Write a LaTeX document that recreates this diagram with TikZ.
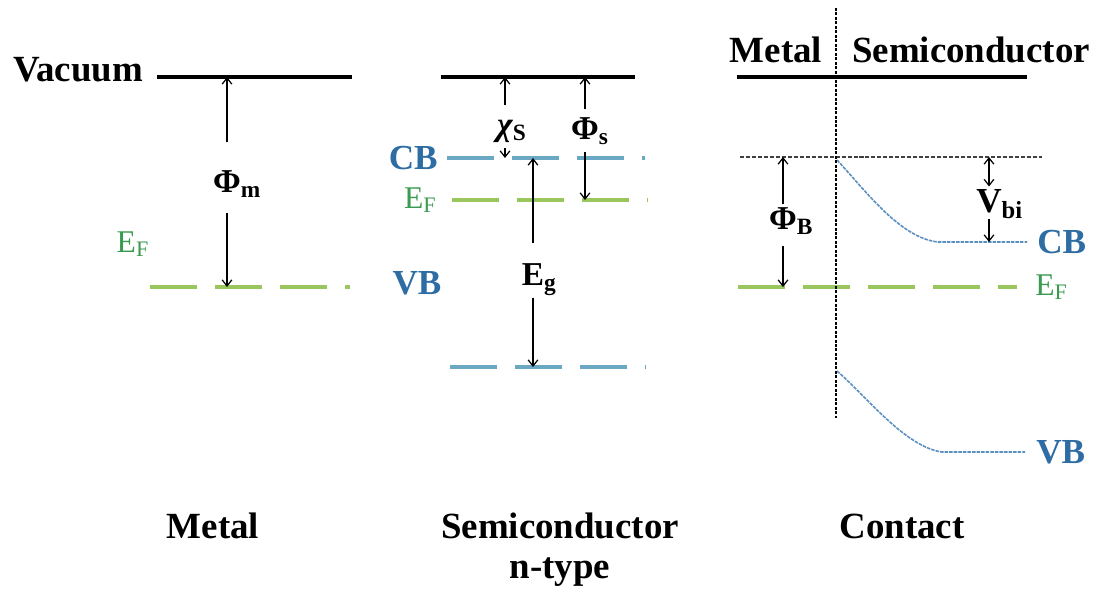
\documentclass[tikz,border=0pt]{standalone}
\usepackage{fontspec}
\setmainfont{Liberation Serif}
\usetikzlibrary{arrows.meta, positioning, calc}
\definecolor{bandblue}{HTML}{2E6DA4}
\definecolor{levelblue}{HTML}{6AA8C4}
\definecolor{fermigreen}{HTML}{9AC65E}
\definecolor{labgreen}{HTML}{3A9A50}
\definecolor{curveblue}{HTML}{5A8FBF}
\tikzset{
  lvl vac/.style={draw=black, line width=2.3pt},
  lvl fermi/.style={
    draw=fermigreen, line width=2.6pt,
    dash pattern=on 0.94cm off 0.36cm
  },
  lvl band/.style={
    draw=levelblue, line width=2.3pt,
    dash pattern=on 0.94cm off 0.36cm
  },
  bend band/.style={draw=curveblue, line width=0.9pt, dash pattern=on 2pt off 0.6pt},
  e arrow/.style={-{Straight Barb[length=3.5pt,width=5.5pt]}, line width=0.7pt},
  e double/.style={{Straight Barb[length=3.5pt,width=5.5pt]}-{Straight Barb[length=3.5pt,width=5.5pt]}, line width=0.7pt},
  big label/.style={font=\bfseries\fontsize{21}{24}\selectfont, inner sep=0pt},
  band label/.style={font=\bfseries\fontsize{20}{22}\selectfont, text=bandblue, inner sep=0pt},
  fermi label/.style={font=\fontsize{18}{20}\selectfont, text=labgreen, inner sep=0pt},
  sym label/.style={
    font=\bfseries\fontsize{19}{21}\selectfont, inner sep=0pt,
    text height=10pt, text depth=1pt
  }
}

\begin{document}
\begin{tikzpicture}[x=0.02cm, y=-0.02cm]
  \useasboundingbox (0,0) rectangle (1105,588);

  % Metal: vacuum level and Fermi level
  \coordinate (mvac1) at (157,77);
  \coordinate (mvac2) at (352,77);
  \coordinate (mef1) at (150,287);
  \coordinate (mef2) at (350,287);
  \draw [lvl vac] (mvac1) -- (mvac2);
  \draw [lvl fermi] (mef1) -- (mef2);
  \node (vaclbl) [big label, anchor=base] at (78,82) {Vacuum};
  \node (mef) [fermi label] at (133,244) {E\textsubscript{F}};
  \node (phim) [sym label] at (227,185) {Φ\rlap{\textsubscript{m}}};
  \draw [e arrow, shorten <=0.65cm] (phim) -- (phim |- mvac1);
  \draw [e arrow, shorten <=0.35cm] (phim) -- (phim |- mef1);

  % Semiconductor n-type: vacuum, CB, E_F, VB
  \coordinate (svac1) at (441,77);
  \coordinate (svac2) at (635,77);
  \coordinate (scb1) at (447,158);
  \coordinate (scb2) at (645,158);
  \coordinate (sef1) at (452,200);
  \coordinate (sef2) at (648,200);
  \coordinate (svb1) at (450,367);
  \coordinate (svb2) at (645,367);
  \draw [lvl vac] (svac1) -- (svac2);
  \draw [lvl band] (scb1) -- (scb2);
  \draw [lvl fermi] (sef1) -- (sef2);
  \draw [lvl band] (svb1) -- (svb2);
  \node (scb) [band label, left=0.18cm of scb1] {CB};
  \node (sef) [fermi label, left=0.3cm of sef1] {E\textsubscript{F}};
  \node (svb) [band label] at (417,283) {VB};
  \node (chis) [sym label] at (505,128) {\itshape χ\rlap{\upshape\textsubscript{S}}};
  \node (phis) [sym label] at (585,132) {Φ\rlap{\textsubscript{s}}};
  \node (eg) [sym label] at (533,278) {E\rlap{\textsubscript{g}}};
  \draw [e arrow, shorten <=0.25cm] (chis) -- (chis |- svac1);
  \draw [e arrow, shorten <=0.2cm] (chis) -- (chis |- scb1);
  \draw [e arrow, shorten <=0.25cm] (phis) -- (phis |- svac1);
  \draw [e arrow, shorten <=0.2cm] (phis) -- (phis |- sef1);
  \draw [e arrow, shorten <=0.5cm] (eg) -- (eg |- scb1);
  \draw [e arrow, shorten <=0.19cm] (eg) -- (eg |- svb1);

  % Contact: interface, barrier and bent bands
  \coordinate (cdiv1) at (836,8);
  \coordinate (cdiv2) at (836,418);
  \coordinate (cvac1) at (737,77);
  \coordinate (cvac2) at (1027,77);
  \coordinate (cbar1) at (740,157);
  \coordinate (cbar2) at (1042,157);
  \coordinate (cef1) at (738,287);
  \coordinate (cef2) at (1017,287);
  \coordinate (ccb0) at (837,160);
  \coordinate (ccb1) at (938,242);
  \coordinate (ccb2) at (1027,242);
  \coordinate (cvb0) at (837,371);
  \coordinate (cvb1) at (942,452);
  \coordinate (cvb2) at (1025,452);
  \draw [lvl vac] (cvac1) -- (cvac2);
  \draw [black!75, line width=0.85pt, dash pattern=on 2.3pt off 1.1pt] (cbar1) -- (cbar2);
  \draw [lvl fermi] (cef1) -- (cef2);
  \draw [bend band] (ccb0) .. controls (865,190) and (900,238) .. (ccb1) -- (ccb2);
  \draw [bend band] (cvb0) .. controls (865,395) and (905,447) .. (cvb1) -- (cvb2);
  \draw [black, line width=1.4pt, dash pattern=on 1.7pt off 0.85pt] (cdiv1) -- (cdiv2);
  \node (cmetal) [big label, anchor=base] at (776,63) {Metal};
  \node (csemi) [big label, anchor=base] at (971,63) {Semiconductor};
  \node (ccb) [band label, right=0.2cm of ccb2] {CB};
  \node (cef) [fermi label, right=0.36cm of cef2] {E\textsubscript{F}};
  \node (cvb) [band label, right=0.22cm of cvb2] {VB};
  \node (phib) [sym label] at (783,222) {Φ\rlap{\textsubscript{B}}};
  \node (vbi) [sym label, font=\bfseries\fontsize{20}{22}\selectfont] at (989,205) {V\rlap{\textsubscript{bi}}};
  \draw [e arrow, shorten <=0.15cm] (phib) -- (phib |- cbar1);
  \draw [e arrow, shorten <=0.27cm] (phib) -- (phib |- cef1);
  \draw [e double, shorten <=0.17cm] (vbi) -- (vbi |- cbar1);
  \draw [e arrow, shorten <=0.07cm] (vbi) -- (vbi |- ccb2);

  % Captions
  \node (capm) [big label, anchor=base] at (213,538) {Metal};
  \node (caps) [big label, anchor=base] at (560,538) {Semiconductor};
  \node (capn) [big label, anchor=base] at (560,578) {n-type};
  \node (capc) [big label, anchor=base] at (902,538) {Contact};
\end{tikzpicture}
\end{document}
